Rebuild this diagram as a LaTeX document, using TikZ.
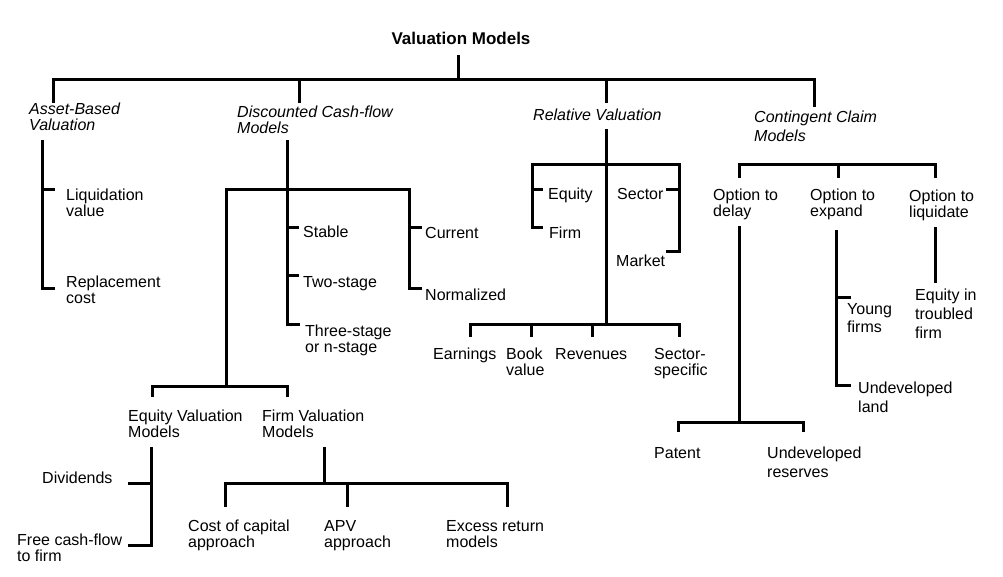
\documentclass[tikz,border=0pt]{standalone}
\usepackage{fontspec}
\setmainfont{Liberation Sans}
\usetikzlibrary{positioning}

\tikzset{
  lbl/.style={anchor=north west,inner sep=0,align=left,font=\fontsize{16}{16}\selectfont},
  head/.style={lbl,font=\fontsize{16}{16}\selectfont\itshape},
  ttl/.style={anchor=north,inner sep=0,font=\fontsize{17}{20}\selectfont\bfseries},
  tree/.style={line width=3pt,line join=miter}
}

\begin{document}
\begin{tikzpicture}[x=1pt,y=-1pt]
\useasboundingbox (0,0) rectangle (1003,576);
% title and first level
\node[ttl] (vm) at (461,32) {Valuation Models};
\coordinate (vm-s) at (458,55);
\coordinate (ab-t) at (53,103);
\coordinate (dcf-t) at (299,103);
\coordinate (rv-t) at (606,103);
\coordinate (cc-t) at (814,107);
\draw[tree] (vm-s) -- ++(0,24);
\draw[tree] (ab-t) -- ++(0,-24) -| (cc-t);
\draw[tree] (dcf-t) -- ++(0,-24);
\draw[tree] (rv-t) -- ++(0,-24);
\node[head] (ab) at (29,103) {Asset-Based\\Valuation};
\node[head] (dcf) at (237,106) {Discounted Cash-flow\\Models};
\node[head] (rv) at (533,109) {Relative Valuation};
\node[head] (cc) at (754,111) {Contingent Claim\\[3pt]Models};
% asset-based
\coordinate (ab-s) at (42,140);
\draw[tree] (ab-s) |- ++(13,148);
\draw[tree] (42,189) -- ++(13,0);
\node[lbl] (liq) at (66,189) {Liquidation\\value};
\node[lbl] (rep) at (66,276) {Replacement\\cost};
% discounted cash-flow
\coordinate (dcf-s) at (287,140);
\coordinate (dcf-b) at (226,386);
\draw[tree] (dcf-s) |- ++(13,184);
\draw[tree] (287,227) -- ++(12,0);
\draw[tree] (287,275) -- ++(12,0);
\draw[tree] (dcf-b) -- (226,189) -- (409,189) |- ++(13,99);
\draw[tree] (409,227) -- ++(13,0);
\node[lbl] (stb) at (303,226) {Stable};
\node[lbl] (two) at (303,276) {Two-stage};
\node[lbl] (three) at (305,325) {Three-stage\\or n-stage};
\node[lbl] (cur) at (425,227) {Current};
\node[lbl] (nrm) at (425,289) {Normalized};
\draw[tree] (152,397) |- (dcf-b) -| (287,397);
\node[lbl] (eqv) at (128,410) {Equity Valuation\\Models};
\node[lbl] (fv) at (262,410) {Firm Valuation\\Models};
% equity and firm valuation
\coordinate (eqv-s) at (151,447);
\coordinate (fv-s) at (324,447);
\draw[tree] (eqv-s) |- ++(-23,98);
\draw[tree] (151,483) -- ++(-23,0);
\node[lbl] (div) at (42,472) {Dividends};
\node[lbl] (fcf) at (17,534) {Free cash-flow\\to firm};
\draw[tree] (fv-s) -- ++(0,36);
\draw[tree] (225,507) |- (507,483) -- ++(0,24);
\draw[tree] (347,483) -- ++(0,24);
\node[lbl] (coc) at (188,520) {Cost of capital\\approach};
\node[lbl] (apv) at (324,520) {APV\\approach};
\node[lbl] (exr) at (446,520) {Excess return\\models};
% relative valuation
\coordinate (rv-s) at (606,129);
\coordinate (rv-b) at (606,324);
\draw[tree] (rv-s) -- (rv-b);
\draw[tree] (543,227) -| (532,164) -| (679,251) -- ++(-13,0);
\draw[tree] (532,189) -- ++(11,0);
\draw[tree] (679,189) -- ++(-13,0);
\node[lbl] (eqt) at (548,188) {Equity};
\node[lbl] (frm) at (549,227) {Firm};
\node[lbl] (sec) at (617,188) {Sector};
\node[lbl] (mkt) at (616,255) {Market};
\draw[tree] (470,337) |- (rv-b) -| (679,337);
\draw[tree] (531,324) -- ++(0,13);
\draw[tree] (592,324) -- ++(0,13);
\node[lbl] (ern) at (433,348) {Earnings};
\node[lbl] (bv) at (506,348) {Book\\value};
\node[lbl] (revn) at (555,348) {Revenues};
\node[lbl] (ssp) at (654,348) {Sector-\\specific};
% contingent claim
\draw[tree] (739,178) |- (935,164) -- ++(0,14);
\draw[tree] (838,164) -- ++(0,14);
\node[lbl] (odl) at (713,189) {Option to\\delay};
\node[lbl] (oex) at (810,189) {Option to\\expand};
\node[lbl] (olq) at (909,190) {Option to\\liquidate};
\coordinate (odl-s) at (739,226);
\coordinate (odl-b) at (739,422);
\draw[tree] (odl-s) -- (odl-b);
\draw[tree] (678,432) |- (odl-b) -| (803,432);
\node[lbl] (pat) at (654,447) {Patent};
\node[lbl] (ur) at (767,447) {Undeveloped\\[3pt]reserves};
\coordinate (oex-s) at (836,230);
\draw[tree] (oex-s) |- ++(15,155);
\draw[tree] (836,297) -- ++(15,0);
\node[lbl] (yf) at (847,303) {Young\\[2pt]firms};
\node[lbl] (ul) at (858,382) {Undeveloped\\[3pt]land};
\coordinate (olq-s) at (935,227);
\draw[tree] (olq-s) -- ++(0,56);
\node[lbl] (eit) at (915,289) {Equity in\\[3pt]troubled\\[3pt]firm};
\end{tikzpicture}
\end{document}
